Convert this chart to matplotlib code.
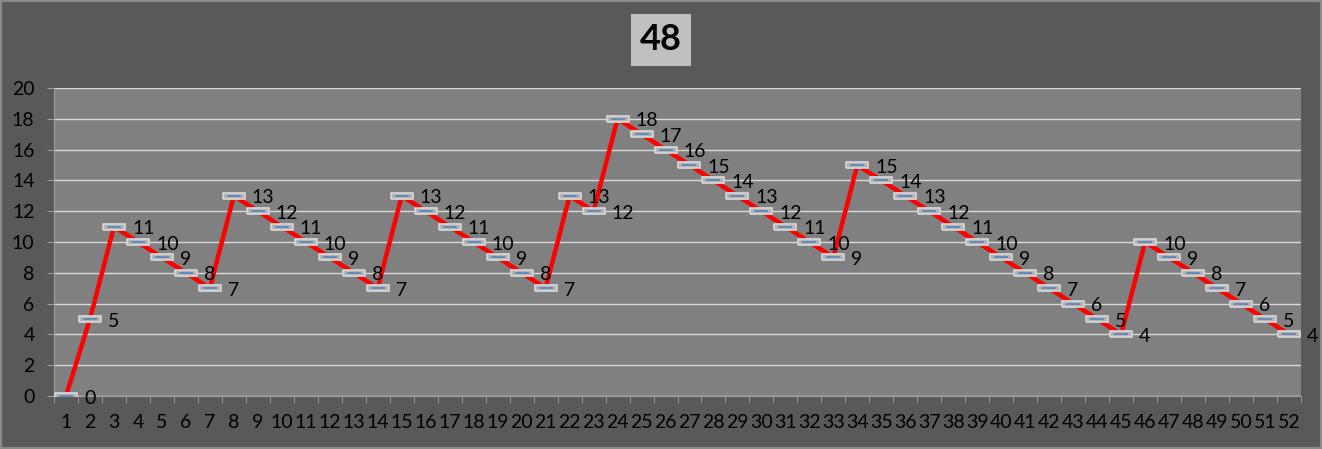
import numpy as np
import matplotlib.pyplot as plt
from matplotlib.patches import Rectangle

plt.rcParams['font.family'] = ['Lato', 'DejaVu Sans']

titulo = "48"
categorias = list(range(1, 53))
valores = [0, 5, 11, 10, 9, 8, 7, 13, 12, 11, 10, 9, 8, 7, 13, 12, 11, 10, 9, 8, 7,
           13, 12, 18, 17, 16, 15, 14, 13, 12, 11, 10, 9, 15, 14, 13, 12, 11, 10, 9,
           8, 7, 6, 5, 4, 10, 9, 8, 7, 6, 5, 4]
yticks = list(range(0, 21, 2))

fig = plt.figure(figsize=(13.22, 4.49), dpi=100, facecolor='#595959')
fig.patches.append(Rectangle((0, 0), 1, 1, transform=fig.transFigure, fill=False,
                             edgecolor='#8a8a8a', linewidth=3))
ax = fig.add_axes([54 / 1322, 1 - 396 / 449, (1301 - 54) / 1322, (396 - 88) / 449])
ax.set_facecolor('#808080')

ax.plot(categorias, valores, color='#ff0000', linewidth=3.2, zorder=3)
caja = [(-1.6, -0.4), (1.6, -0.4), (1.6, 0.4), (-1.6, 0.4), (-1.6, -0.4)]
ax.plot(categorias, valores, linestyle='none', marker=caja, markersize=16,
        markerfacecolor='#b4b4b4', markeredgecolor='#d4d4d4', markeredgewidth=1.3, zorder=4)
ax.plot(categorias, valores, linestyle='none', marker='_', markersize=10,
        markeredgecolor='#4f81bd', markeredgewidth=1.1, zorder=5)

for x, v in zip(categorias, valores):
    ax.annotate(str(v), (x, v), xytext=(13, -1.5), textcoords='offset points',
                ha='left', va='center', fontsize=14, color='black', zorder=6,
                annotation_clip=False)

ax.set_xlim(0.5, 52.5)
ax.set_ylim(0, 20)
ax.set_yticks(yticks)
ax.set_xticks(categorias)
ax.set_xticks(np.arange(0.5, 53, 1), minor=True)
ax.tick_params(axis='x', which='major', length=0, pad=13, labelsize=14, labelcolor='black')
ax.tick_params(axis='x', which='minor', length=5, color='#a0a0a0', direction='out')
ax.tick_params(axis='y', length=5, color='#a0a0a0', labelsize=14, labelcolor='black', pad=9)
ax.grid(axis='y', color='#d9d9d9', linewidth=1)
ax.set_axisbelow(True)
for lado in ['top', 'right']:
    ax.spines[lado].set_visible(False)
ax.spines['left'].set_color('#a0a0a0')
ax.spines['bottom'].set_color('#a0a0a0')

fig.text(661 / 1322, 1 - 40 / 449, titulo, ha='center', va='center', fontsize=26,
         fontweight='bold', color='black',
         bbox=dict(boxstyle='square,pad=0.25', facecolor='#c0c0c0', edgecolor='none'))

plt.savefig("out.png", dpi=100, facecolor=fig.get_facecolor())
plt.close()
